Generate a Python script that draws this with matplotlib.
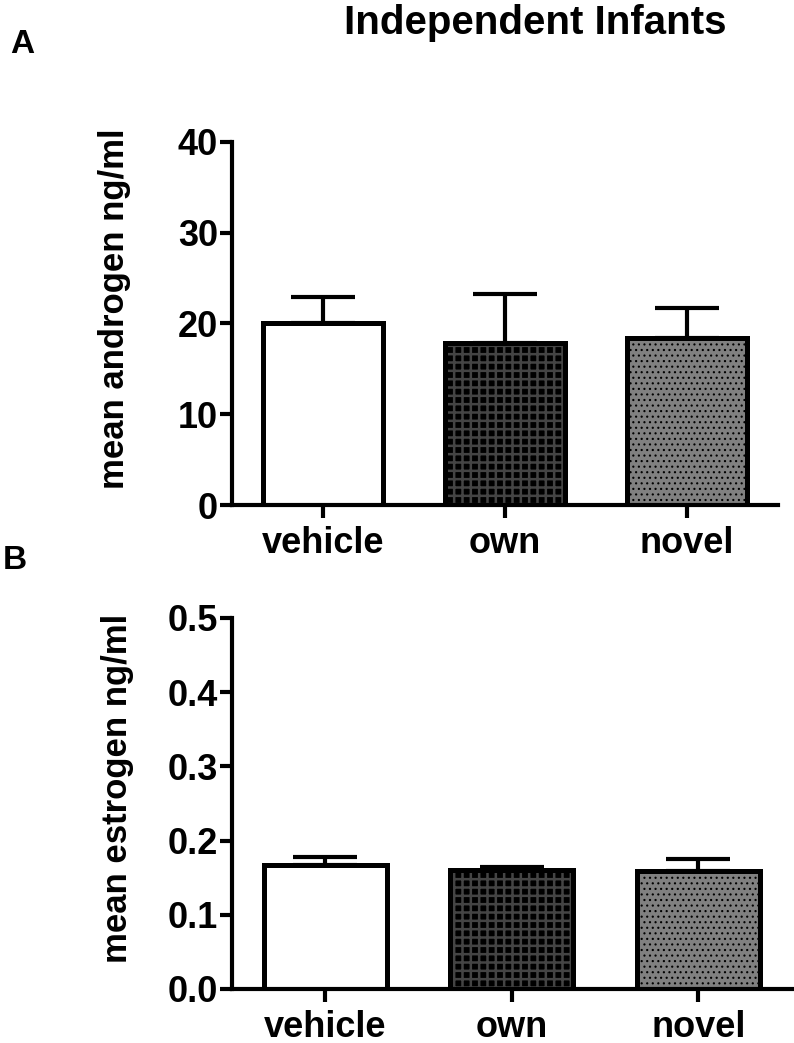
import matplotlib
matplotlib.use("Agg")
import matplotlib.pyplot as plt
from matplotlib.ticker import FormatStrFormatter

# data
groups = ["vehicle", "own", "novel"]
androgen_mean = [20.0, 17.9, 18.4]
androgen_sem = [2.9, 5.3, 3.3]
estrogen_mean = [0.167, 0.160, 0.159]
estrogen_sem = [0.011, 0.004, 0.016]

# bar looks: (fill colour, hatch colour, hatch pattern, hatch width)
looks = [("white", "white", None, 1.0),
         ("black", "#444444", "++", 1.8),
         ("#808080", "black", "...", 0.8)]

plt.rcParams["font.family"] = ["Liberation Sans", "DejaVu Sans"]
plt.rcParams["font.weight"] = "bold"

fig = plt.figure(figsize=(7.94, 10.43), dpi=100)
ax_a = fig.add_axes([0.292, 0.5158, 0.688, 0.3481])
ax_b = fig.add_axes([0.292, 0.0518, 0.705, 0.3557])


def draw_panel(ax, means, sems, ymax, ystep, ylabel, fmt):
    x = list(range(len(groups)))
    ax.errorbar(x, means, yerr=[[0] * len(sems), sems], fmt="none",
                ecolor="black", elinewidth=3, capsize=23, capthick=3,
                zorder=1)
    for i, (fc, hc, hatch, hw) in enumerate(looks):
        with plt.rc_context({"hatch.linewidth": hw}):
            ax.bar(x[i], means[i], width=0.66, color=fc, edgecolor=hc,
                   hatch=hatch, linewidth=0, zorder=2)
    ax.bar(x, means, width=0.66, fill=False, edgecolor="black",
           linewidth=3.6, zorder=3)
    ax.set_xlim(-0.5, 2.5)
    ax.set_ylim(0, ymax)
    ax.set_yticks([ystep * k for k in range(int(round(ymax / ystep)) + 1)])
    if fmt:
        ax.yaxis.set_major_formatter(FormatStrFormatter(fmt))
    ax.set_xticks(x)
    ax.set_xticklabels(groups)
    for s in ["top", "right"]:
        ax.spines[s].set_visible(False)
    for s in ["left", "bottom"]:
        ax.spines[s].set_linewidth(3)
    ax.tick_params(axis="both", length=9, width=3, labelsize=26, pad=1)
    ax.tick_params(axis="x", pad=6)
    ax.set_ylabel(ylabel, fontsize=25, fontweight="bold", va="center")


draw_panel(ax_a, androgen_mean, androgen_sem, 40, 10,
           "mean androgen ng/ml", None)
ax_a.yaxis.set_label_coords(-0.214, 0.54)
draw_panel(ax_b, estrogen_mean, estrogen_sem, 0.5, 0.1,
           "mean estrogen ng/ml", "%.1f")
ax_b.yaxis.set_label_coords(-0.205, 0.54)

narrow = ["Liberation Sans Narrow", "Liberation Sans", "DejaVu Sans"]
fig.text(0.674, 0.978, "Independent Infants", ha="center", va="center",
         fontsize=29, fontweight="bold", family=narrow)
fig.text(0.028, 0.957, "A", ha="center", va="center", fontsize=24,
         fontweight="bold", family=narrow)
fig.text(0.019, 0.463, "B", ha="center", va="center", fontsize=24,
         fontweight="bold", family=narrow)

fig.savefig("out.png", dpi=100)
